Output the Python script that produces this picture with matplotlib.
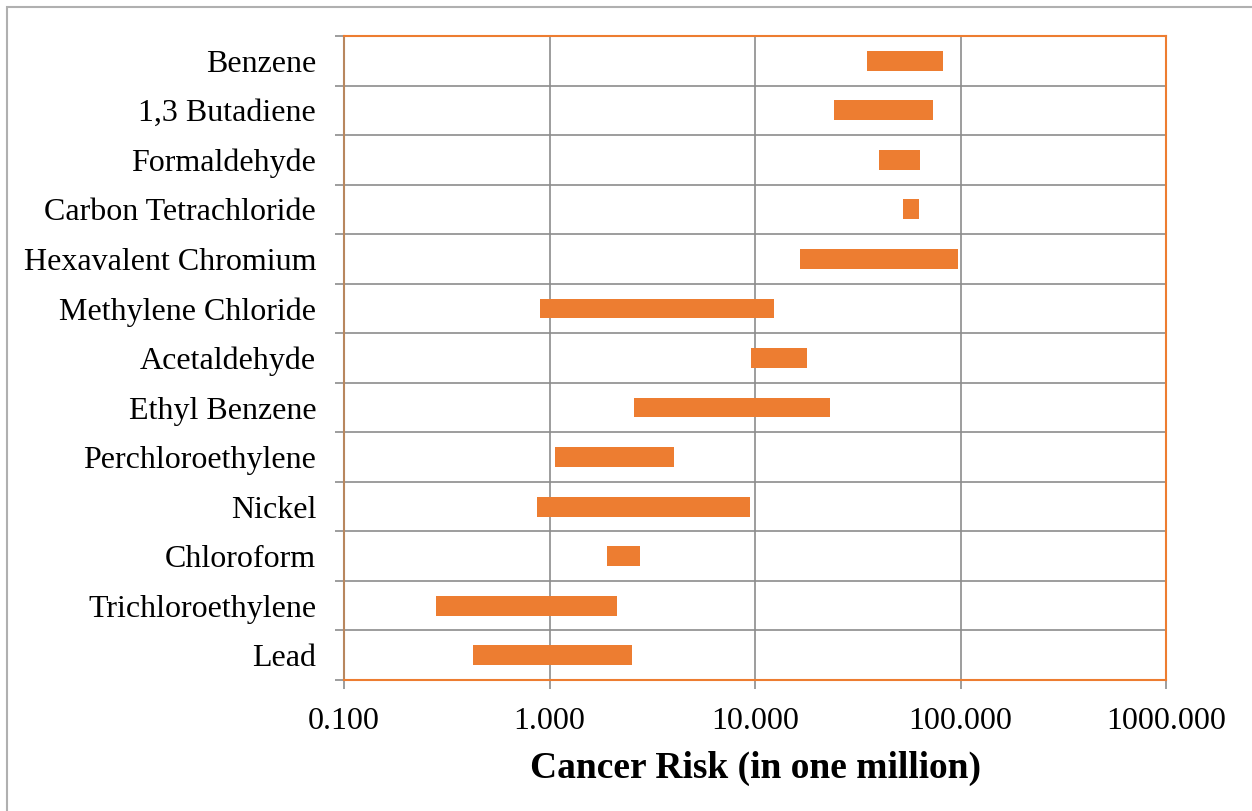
import matplotlib.pyplot as plt
from matplotlib.patches import Rectangle
import numpy as np

chemicals = ['Benzene', '1,3 Butadiene', 'Formaldehyde', 'Carbon Tetrachloride',
             'Hexavalent Chromium', 'Methylene Chloride', 'Acetaldehyde',
             'Ethyl Benzene', 'Perchloroethylene', 'Nickel', 'Chloroform',
             'Trichloroethylene', 'Lead']
risk_low = [35.1, 24.2, 40.1, 52.5, 16.6, 0.90, 9.57, 2.58, 1.06, 0.87, 1.90, 0.28, 0.424]
risk_high = [82.2, 73.5, 63.5, 62.8, 97.2, 12.4, 17.9, 23.2, 4.03, 9.46, 2.76, 2.13, 2.52]

orange = '#ED7D31'
grey = '#8c8c8c'

plt.rcParams['font.family'] = ['Liberation Serif', 'DejaVu Serif']

fig = plt.figure(figsize=(12.52, 8.11), dpi=100)
ax = fig.add_axes([344 / 1252, 1 - 680 / 811, 822 / 1252, 644 / 811])

n = len(chemicals)
ypos = np.arange(n)[::-1]
widths = [h - l for l, h in zip(risk_low, risk_high)]
ax.barh(ypos, widths, left=risk_low, height=0.4, color=orange, zorder=3)

ax.set_xscale('log')
ax.set_xlim(0.1, 1000)
ax.set_ylim(-0.5, n - 0.5)
ax.set_xticks([0.1, 1, 10, 100, 1000])
ax.set_xticklabels(['0.100', '1.000', '10.000', '100.000', '1000.000'])
ax.xaxis.set_minor_locator(plt.NullLocator())
ax.set_yticks(ypos)
ax.set_yticklabels(chemicals)
ax.set_yticks(np.arange(n + 1) - 0.5, minor=True)

ax.tick_params(axis='y', which='major', length=0, labelsize=23, pad=20)
ax.tick_params(axis='y', which='minor', length=6.5, color=grey, width=1.2)
ax.tick_params(axis='x', which='major', length=6.5, color=grey, width=1.2,
               labelsize=23, pad=13)

ax.grid(True, axis='x', which='major', color=grey, linewidth=1.2, zorder=0)
ax.grid(True, axis='y', which='minor', color=grey, linewidth=1.2, zorder=0)

for side in ['top', 'right', 'bottom']:
    ax.spines[side].set_color(orange)
    ax.spines[side].set_linewidth(1.5)
ax.spines['left'].set_color('#b8875e')
ax.spines['left'].set_linewidth(1.5)

ax.set_xlabel('Cancer Risk (in one million)', fontsize=27, fontweight='bold', labelpad=11)

# outer chart border
fig.patches.append(Rectangle((6.5 / 1252, -0.05), 1.2, 1 - 6.5 / 811 + 0.05,
                             transform=fig.transFigure, fill=False,
                             edgecolor='#b0b0b0', linewidth=1.5))

fig.savefig('out.png', dpi=100)
